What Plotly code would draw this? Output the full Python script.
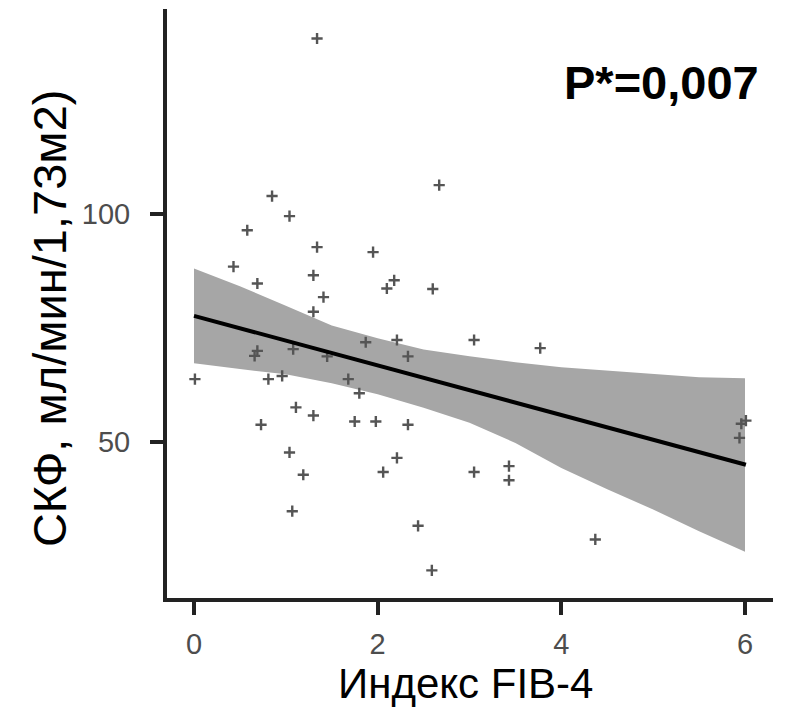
import plotly.graph_objects as go

# ---- data ----
fib4 = [1.34, 2.67, 0.85, 1.04, 0.58, 1.34, 1.95, 0.43, 1.30, 2.18, 2.10, 2.60, 0.69, 1.41, 1.30,
        2.21, 3.05, 1.87, 0.69, 0.66, 1.08, 1.45, 2.33, 0.01, 0.81, 0.96, 1.68, 1.80, 1.11, 1.30,
        0.73, 1.75, 1.98, 2.33, 1.04, 2.21, 1.19, 2.06, 3.05, 1.07, 2.44, 2.59, 3.77, 6.01, 5.96,
        5.94, 3.43, 3.43, 4.37]
gfr = [138.6, 106.4, 104.0, 99.6, 96.5, 92.8, 91.7, 88.5, 86.6, 85.5, 83.7, 83.6, 84.8, 81.8, 78.6,
       72.4, 72.4, 71.9, 70.0, 68.9, 70.4, 68.8, 68.8, 63.8, 63.8, 64.5, 63.8, 60.7, 57.6, 55.8,
       53.8, 54.5, 54.5, 53.8, 47.7, 46.5, 42.8, 43.4, 43.4, 34.8, 31.6, 21.8, 70.6, 54.7, 54.0,
       50.9, 44.7, 41.6, 28.6]

fit_x = [0.0, 6.01]
fit_y = [77.7, 45.0]

band_x = [0, 0.5, 1, 1.5, 2, 2.5, 3, 3.5, 4, 4.5, 5, 5.5, 6.0]
band_upper = [88.1, 84.2, 79.9, 75.6, 72.8, 70.3, 68.8, 67.5, 66.4, 65.7, 64.9, 64.2, 64.0]
band_lower = [67.3, 66.0, 64.9, 62.9, 60.5, 57.5, 54.2, 49.8, 44.3, 39.6, 35.2, 30.4, 25.9]

x_ticks = [0, 2, 4, 6]
y_ticks = [50, 100]

x_title = "Индекс FIB-4"
y_title = "СКФ, мл/мин/1,73м2)"
p_label = "P*=0,007"

FONT = "Liberation Sans, Arial, sans-serif"

fig = go.Figure()
fig.add_trace(go.Scatter(x=band_x, y=band_lower, mode="lines", line=dict(width=0),
                         showlegend=False, hoverinfo="skip"))
fig.add_trace(go.Scatter(x=band_x, y=band_upper, mode="lines", line=dict(width=0),
                         fill="tonexty", fillcolor="#a6a6a6", showlegend=False, hoverinfo="skip"))
fig.add_trace(go.Scatter(x=fib4, y=gfr, mode="markers",
                         marker=dict(symbol="cross-thin", size=8, color="#555555",
                                     line=dict(width=2.4, color="#555555")),
                         showlegend=False))
fig.add_trace(go.Scatter(x=fit_x, y=fit_y, mode="lines", line=dict(color="black", width=4),
                         showlegend=False))

axis_common = dict(showgrid=False, zeroline=False, showline=True, linewidth=4, linecolor="#222222",
                   ticks="outside", ticklen=13, tickwidth=4, tickcolor="#222222",
                   tickfont=dict(family=FONT, size=29, color="#4d4d4d"))

fig.update_xaxes(range=[-0.294, 6.305], tickvals=x_ticks, ticklabelstandoff=4, **axis_common)
fig.update_yaxes(range=[15.74, 145.08], tickvals=y_ticks, ticklabelstandoff=14, **axis_common)

fig.update_layout(
    width=785, height=709,
    margin=dict(l=167, r=12, t=9, b=111),
    plot_bgcolor="white", paper_bgcolor="white",
    font=dict(family=FONT),
    hovermode=False,
    annotations=[
        dict(text=x_title, xref="paper", yref="paper", x=0.492, y=-0.146,
             xanchor="center", yanchor="middle", showarrow=False,
             font=dict(family=FONT, size=42, color="black")),
        dict(text=y_title, xref="paper", yref="paper", x=-0.194, y=0.476, textangle=-90,
             xanchor="center", yanchor="middle", showarrow=False,
             font=dict(family=FONT, size=47, color="black")),
        dict(text="<b>" + p_label + "</b>", xref="paper", yref="paper", x=0.816, y=0.876,
             xanchor="center", yanchor="middle", showarrow=False,
             font=dict(family=FONT, size=47, color="black")),
    ],
)

fig.write_html("out.html", config={"displayModeBar": False},
               post_script="document.body.style.margin='0';document.body.style.overflow='hidden';")
